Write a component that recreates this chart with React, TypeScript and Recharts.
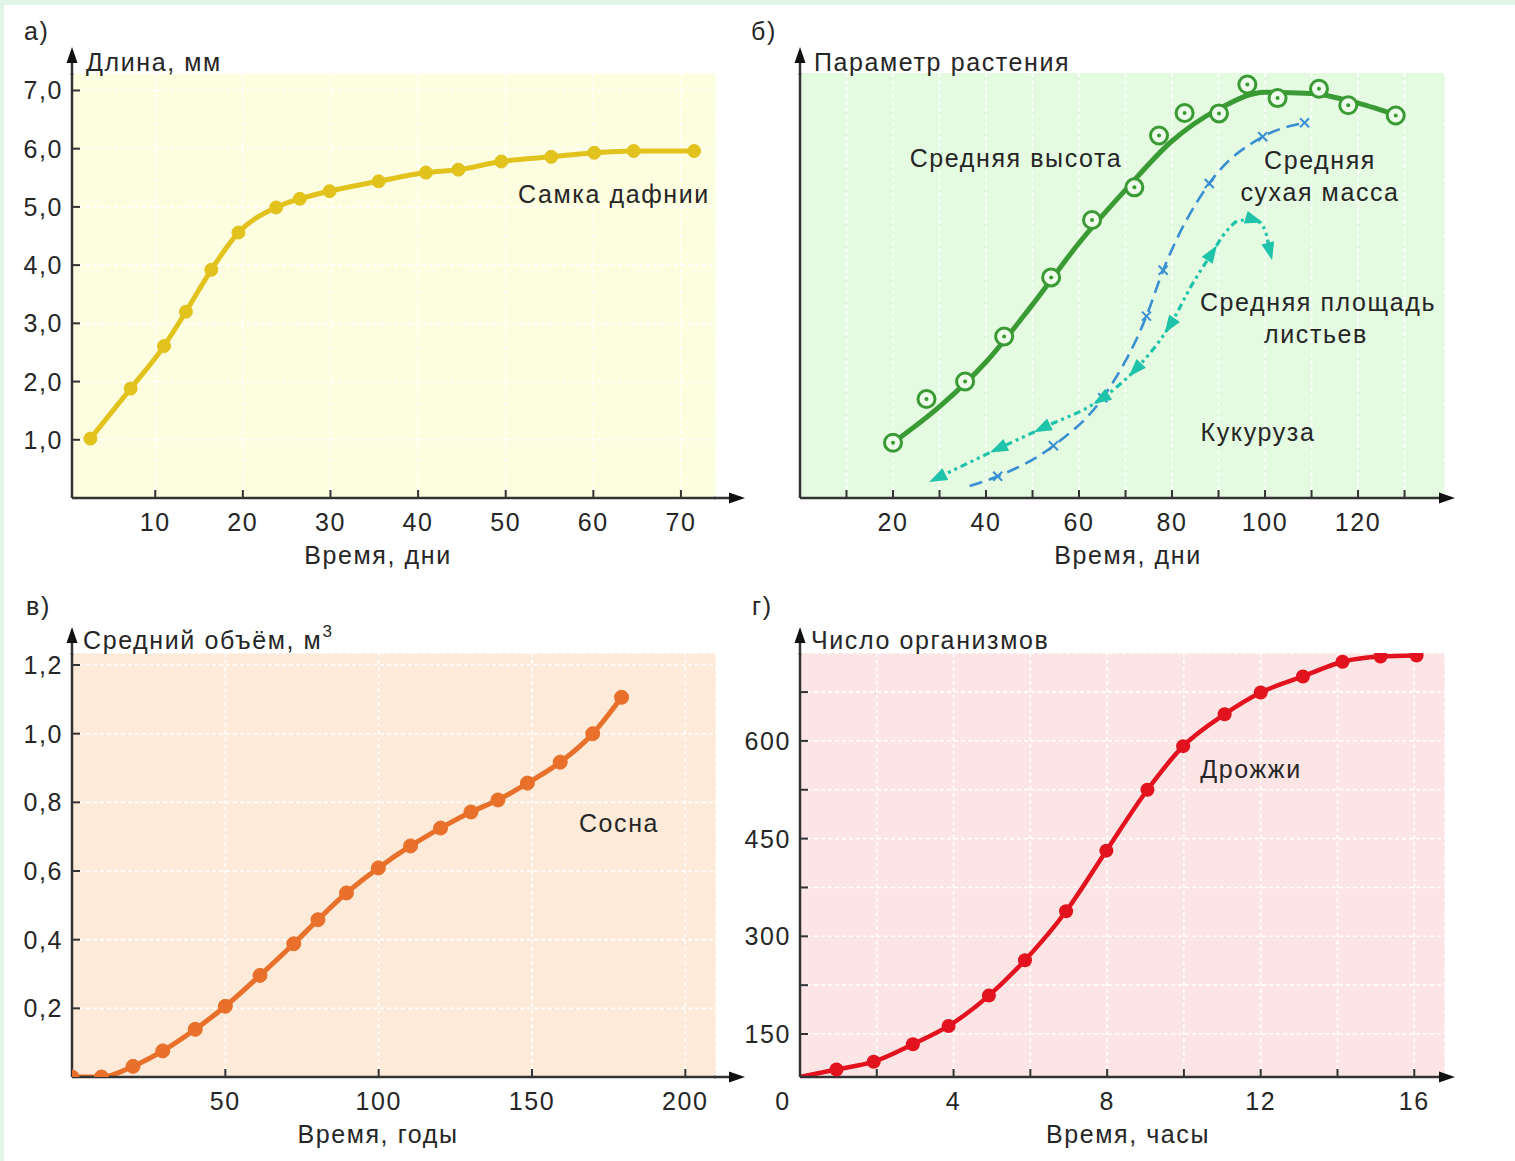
import React from 'react';
import { ComposedChart, Line, Scatter, XAxis, YAxis, CartesianGrid } from 'recharts';

const FONT = 'Arial, "Liberation Sans", sans-serif';
const TXT = '#262626';
const AXIS = '#333';
const FS = 25;

// ---------- а) Daphnia ----------
const daphniaDays = [2.6, 7.2, 11, 13.5, 16.4, 19.5, 23.8, 26.5, 29.9, 35.5, 40.9, 44.6, 49.5, 55.2, 60.1, 64.6, 71.5];
const daphniaLength = [1.02, 1.88, 2.61, 3.2, 3.92, 4.56, 4.99, 5.14, 5.27, 5.44, 5.59, 5.64, 5.78, 5.86, 5.93, 5.96, 5.96];
const aXTicks = [10, 20, 30, 40, 50, 60, 70];
const aYTicks = [1, 2, 3, 4, 5, 6, 7];

// ---------- б) Maize ----------
const heightDays = [20, 27.2, 35.5, 43.9, 54, 62.8, 71.9, 77.2, 82.7, 90.1, 96.2, 102.7, 111.6, 117.9, 128.1];
const heightValues = [13, 23.3, 27.4, 38, 51.9, 65.4, 73.1, 85.3, 90.6, 90.5, 97.3, 94.1, 96.3, 92.4, 90];
const heightCurveDays = [20, 30, 40, 50, 60, 70, 80, 90, 100, 110, 120, 128.5];
const heightCurveValues = [13, 21.5, 32, 45.5, 60, 72.5, 84, 91.5, 95.5, 95.2, 92.9, 90];
const massDays = [36.5, 42.5, 54.5, 65.1, 74.5, 78.1, 88, 99.5, 108.5];
const massValues = [2.8, 5.1, 12.3, 23.6, 42.8, 53.6, 74, 85, 88.3];
const leafDays = [29.7, 42.8, 52.2, 64.9, 72.2, 79.6, 84.3, 88.5, 91.5, 94.5, 97.5, 99.8, 101];
const leafValues = [4.8, 11.7, 16.5, 23.4, 30.3, 40.7, 50.2, 57.5, 62.5, 65.3, 65.5, 63.5, 58.2];
const leafArrowDirs = [-1, -1, -1, -1, -1, -1, 0, 1, 0, 0, 1, 0, 1];
const bXTicks = [10, 20, 30, 40, 50, 60, 70, 80, 90, 100, 110, 120, 130];
const bXLabels = [20, 40, 60, 80, 100, 120];

// ---------- в) Pine ----------
const pineYears = [0, 9.6, 19.9, 29.6, 40.2, 50, 61.3, 72.3, 80.2, 89.5, 99.9, 110.4, 120.2, 130.1, 138.9, 148.5, 159.2, 169.8, 179.2];
const pineVolume = [0, 0, 0.031, 0.076, 0.139, 0.206, 0.296, 0.388, 0.458, 0.536, 0.609, 0.673, 0.725, 0.772, 0.807, 0.856, 0.917, 1.0, 1.106];
const cXTicks = [50, 100, 150, 200];
const cYTicks = [0.2, 0.4, 0.6, 0.8, 1.0, 1.2];

// ---------- г) Yeast ----------
const yeastHours = [0, 0.95, 1.92, 2.94, 3.87, 4.92, 5.86, 6.93, 7.98, 9.05, 9.98, 11.06, 12.0, 13.1, 14.13, 15.12, 16.06];
const yeastCount = [84, 95.5, 107.5, 134.3, 162.4, 209, 263.3, 338.5, 431.5, 525, 592, 641, 674.3, 699, 721.5, 729.5, 731];
const dXTicks = [0, 2, 4, 6, 8, 10, 12, 14, 16];
const dXLabels = [0, 4, 8, 12, 16];
const dYTicks = [150, 225, 300, 375, 450, 525, 600, 675];
const dYLabels = [150, 300, 450, 600];

const zip = (xs: number[], ys: number[]) => xs.map((x, i) => ({ x, y: ys[i] }));

type Box = { left: number; top: number; width: number; height: number; L: number; R: number; T: number; B: number; xd: [number, number]; yd: [number, number] };
const YW = 40;
const XH = 50;

const boxA: Box = { left: 0, top: 0, width: 740, height: 580, L: 72, R: 716, T: 73, B: 498, xd: [0.5, 74], yd: [0, 7.3] };
const boxB: Box = { left: 740, top: 0, width: 775, height: 580, L: 800, R: 1445, T: 73, B: 498, xd: [0, 138.7], yd: [0, 100] };
const boxC: Box = { left: 0, top: 580, width: 740, height: 581, L: 72, R: 716, T: 653, B: 1077, xd: [0, 210], yd: [0, 1.235] };
const boxD: Box = { left: 740, top: 580, width: 775, height: 581, L: 800, R: 1445, T: 653, B: 1077, xd: [0, 16.8], yd: [84, 735] };

const marginOf = (b: Box) => ({
  top: b.T - b.top,
  left: b.L - b.left - YW,
  right: b.left + b.width - b.R,
  bottom: b.top + b.height - b.B - XH,
});

const comma = (v: number) => v.toFixed(1).replace('.', ',');
const plain = (v: number) => String(v);

const textStyle = { fontFamily: FONT, fontSize: FS, fill: TXT, letterSpacing: 1.6 } as const;

const makeXTick = (labels: number[], fmt: (v: number) => string, noLine: number[] = []) => (props: any) => {
  const { x, y, payload } = props;
  const v = payload.value;
  return (
    <g>
      {!noLine.includes(v) && <line x1={x} y1={y} x2={x} y2={y - 8} stroke={AXIS} strokeWidth={2} />}
      {labels.includes(v) && (
        <text x={v === 0 ? x - 17 : x} y={y + 24} textAnchor="middle" dominantBaseline="central" style={textStyle}>
          {fmt(v)}
        </text>
      )}
    </g>
  );
};

const makeYTick = (labels: number[], fmt: (v: number) => string) => (props: any) => {
  const { x, y, payload } = props;
  const v = payload.value;
  return (
    <g>
      <line x1={x} y1={y} x2={x + 8} y2={y} stroke={AXIS} strokeWidth={2} />
      {labels.includes(v) && (
        <text x={x - 9} y={y} textAnchor="end" dominantBaseline="central" style={textStyle}>
          {fmt(v)}
        </text>
      )}
    </g>
  );
};

const axisLine = { stroke: AXIS, strokeWidth: 2.5 };

function Panel({ box, bg, hGrid, vGrid, xTicks, yTicks, xTick, yTick, children }: any) {
  return (
    <div style={{ position: 'absolute', left: box.left, top: box.top }}>
      <ComposedChart width={box.width} height={box.height} margin={marginOf(box)}>
        <CartesianGrid stroke="#ffffff" strokeDasharray="4 3" strokeWidth={1.6} fill={bg} fillOpacity={1} horizontal={hGrid} vertical={vGrid} />
        <XAxis type="number" dataKey="x" domain={box.xd} ticks={xTicks} interval={0} allowDataOverflow height={XH}
          tickSize={0} tickMargin={0} tickLine={false} axisLine={axisLine} tick={xTick} />
        <YAxis type="number" dataKey="y" domain={box.yd} ticks={yTicks} interval={0} allowDataOverflow width={YW}
          tickSize={0} tickMargin={0} tickLine={false} axisLine={axisLine} tick={yTick} />
        {children}
      </ComposedChart>
    </div>
  );
}

const pxX = (b: Box) => (b.R - b.L) / (b.xd[1] - b.xd[0]);
const pxY = (b: Box) => (b.B - b.T) / (b.yd[1] - b.yd[0]);

const GREEN = '#3a9a33';
const BLUE = '#3a8fd3';
const CYAN = '#1ec3aa';

const leafArrow = (p: any) => {
  const i = p.index;
  const dir = leafArrowDirs[i];
  if (!dir) return <g key={p.key} />;
  const i0 = Math.max(0, i - 1);
  const i1 = Math.min(leafDays.length - 1, i + 1);
  const dx = (leafDays[i1] - leafDays[i0]) * pxX(boxB) * dir;
  const dy = -(leafValues[i1] - leafValues[i0]) * pxY(boxB) * dir;
  const ang = (Math.atan2(dy, dx) * 180) / Math.PI;
  return (
    <g key={p.key} transform={`translate(${p.cx},${p.cy}) rotate(${ang})`}>
      <polygon points="10,0 -8,-6.5 -8,6.5" fill={CYAN} />
    </g>
  );
};

const crossDot = (p: any) => {
  if (p.index === 0) return <g key={p.key} />;
  const s = 4.5;
  return (
    <g key={p.key}>
      <line x1={p.cx - s} y1={p.cy - s} x2={p.cx + s} y2={p.cy + s} stroke={BLUE} strokeWidth={2} />
      <line x1={p.cx - s} y1={p.cy + s} x2={p.cx + s} y2={p.cy - s} stroke={BLUE} strokeWidth={2} />
    </g>
  );
};

const ringShape = (p: any) => (
  <g>
    <circle cx={p.cx} cy={p.cy} r={8.5} fill="#eefcec" stroke={GREEN} strokeWidth={3} />
    <circle cx={p.cx} cy={p.cy} r={2} fill={GREEN} />
  </g>
);

const yeastDot = (p: any) =>
  p.index === 0 ? <g key={p.key} /> : <circle key={p.key} cx={p.cx} cy={p.cy} r={7} fill="#e2121e" />;

function arrowRight(x: number, y: number) {
  return <polygon points={`${x},${y} ${x - 16},${y - 5.5} ${x - 16},${y + 5.5}`} fill="#111" />;
}
function arrowUp(x: number, y: number) {
  return <polygon points={`${x},${y} ${x - 5.5},${y + 16} ${x + 5.5},${y + 16}`} fill="#111" />;
}

function Decorations() {
  const boxes = [
    { b: boxA, tipX: 745, tipY: 47 },
    { b: boxB, tipX: 1455, tipY: 47 },
    { b: boxC, tipX: 745, tipY: 627 },
    { b: boxD, tipX: 1455, tipY: 627 },
  ];
  const T = (x: number, y: number, s: React.ReactNode, anchor: 'start' | 'middle' | 'end' = 'start') => (
    <text x={x} y={y} textAnchor={anchor} dominantBaseline="central" style={textStyle}>{s}</text>
  );
  return (
    <svg width={1515} height={1161} style={{ position: 'absolute', left: 0, top: 0, pointerEvents: 'none' }}>
      {boxes.map(({ b, tipX, tipY }, i) => (
        <g key={i}>
          <line x1={b.R - 2} y1={b.B} x2={tipX - 10} y2={b.B} stroke={AXIS} strokeWidth={2.5} />
          <line x1={b.L} y1={b.T + 2} x2={b.L} y2={tipY + 10} stroke={AXIS} strokeWidth={2.5} />
          {arrowRight(tipX, b.B)}
          {arrowUp(b.L, tipY)}
        </g>
      ))}
      {T(24, 31, 'а)')}
      {T(751, 31, 'б)')}
      {T(26, 606, 'в)')}
      {T(752, 606, 'г)')}
      {T(86, 62, 'Длина, мм')}
      {T(814, 62, 'Параметр растения')}
      {T(83, 640, <>Средний объём, м<tspan dy={-9} fontSize={17}>3</tspan></>)}
      {T(811, 640, 'Число организмов')}
      {T(378, 555, 'Время, дни', 'middle')}
      {T(1128, 555, 'Время, дни', 'middle')}
      {T(378, 1134, 'Время, годы', 'middle')}
      {T(1128, 1134, 'Время, часы', 'middle')}
      {T(614, 194, 'Самка дафнии', 'middle')}
      {T(1016, 158, 'Средняя высота', 'middle')}
      {T(1320, 160, 'Средняя', 'middle')}
      {T(1320, 192, 'сухая масса', 'middle')}
      {T(1318, 302, 'Средняя площадь', 'middle')}
      {T(1316, 334, 'листьев', 'middle')}
      {T(1258, 432, 'Кукуруза', 'middle')}
      {T(619, 823, 'Сосна', 'middle')}
      {T(1251, 769, 'Дрожжи', 'middle')}
    </svg>
  );
}

export default function App() {
  return (
    <div style={{ position: 'relative', width: 1515, height: 1161, background: '#fff', overflow: 'hidden', fontFamily: FONT }}>
      <style>{`body{margin:0}`}</style>
      <div style={{ position: 'absolute', left: 0, top: 0, width: 1515, height: 5, background: '#e1f4e6' }} />
      <div style={{ position: 'absolute', left: 0, top: 0, width: 4, height: 1161, background: '#e1f4e6' }} />

      <Panel box={boxA} bg="#fdfde0" hGrid vGrid xTicks={aXTicks} yTicks={aYTicks}
        xTick={makeXTick(aXTicks, plain)} yTick={makeYTick(aYTicks, comma)}>
        <Line data={zip(daphniaDays, daphniaLength)} dataKey="y" type="monotone" stroke="#e2c21c" strokeWidth={5}
          dot={{ r: 6.5, fill: '#e2c21c', stroke: '#e2c21c', strokeWidth: 1 }} isAnimationActive={false} />
      </Panel>

      <Panel box={boxB} bg="#e4fbe2" hGrid={false} vGrid xTicks={bXTicks} yTicks={[]}
        xTick={makeXTick(bXLabels, plain)} yTick={() => <g />}>
        <Line data={zip(massDays, massValues)} dataKey="y" type="monotone" stroke={BLUE} strokeWidth={2.6}
          strokeDasharray="13 7" dot={crossDot} isAnimationActive={false} />
        <Line data={zip(leafDays, leafValues)} dataKey="y" type="monotone" stroke={CYAN} strokeWidth={3.2}
          strokeDasharray="7 4 3 4 3 4" dot={leafArrow} isAnimationActive={false} />
        <Line data={zip(heightCurveDays, heightCurveValues)} dataKey="y" type="monotone" stroke={GREEN} strokeWidth={5}
          dot={false} isAnimationActive={false} />
        <Scatter data={zip(heightDays, heightValues)} shape={ringShape} isAnimationActive={false} />
      </Panel>

      <Panel box={boxC} bg="#fdead8" hGrid vGrid xTicks={cXTicks} yTicks={cYTicks}
        xTick={makeXTick(cXTicks, plain)} yTick={makeYTick(cYTicks, comma)}>
        <Line data={zip(pineYears, pineVolume)} dataKey="y" type="monotone" stroke="#e8702a" strokeWidth={5}
          dot={{ r: 7, fill: '#e8702a', stroke: '#e8702a', strokeWidth: 1 }} isAnimationActive={false} />
      </Panel>

      <Panel box={boxD} bg="#fde5e6" hGrid vGrid xTicks={dXTicks} yTicks={dYTicks}
        xTick={makeXTick(dXLabels, plain, [0])} yTick={makeYTick(dYLabels, plain)}>
        <Line data={zip(yeastHours, yeastCount)} dataKey="y" type="monotone" stroke="#e2121e" strokeWidth={4.5}
          dot={yeastDot} isAnimationActive={false} />
      </Panel>

      <Decorations />
    </div>
  );
}
